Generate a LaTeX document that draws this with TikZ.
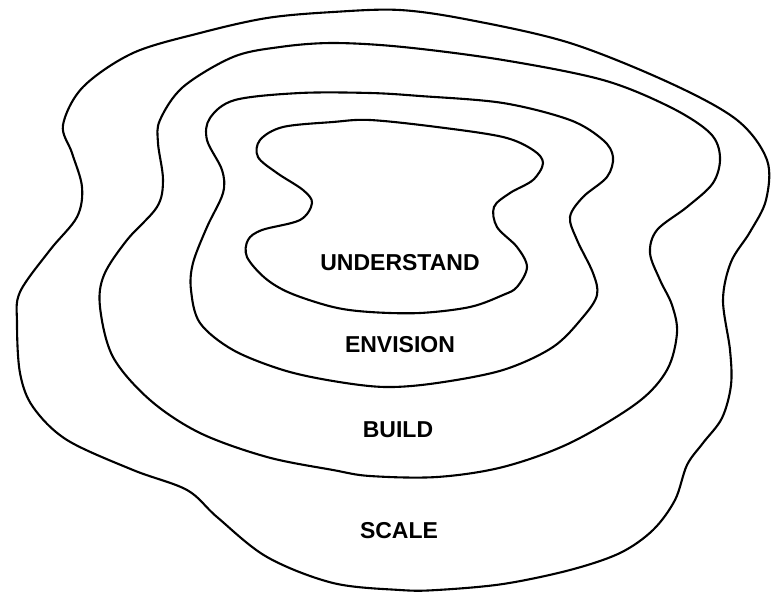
\documentclass[tikz,border=0pt]{standalone}
\usepackage{fontspec}
\setmainfont{Liberation Sans}
\begin{document}
\begin{tikzpicture}[x=1pt,y=-1pt,
  contour/.style={draw=black,line width=2.1pt,line join=round},
  lab/.style={font=\bfseries\fontsize{23}{26}\selectfont,text=black,inner sep=0pt}]
\useasboundingbox (0,0) rectangle (771,592);
% SCALE (outer)
\draw[contour] plot[smooth cycle,tension=0.55] coordinates {
 (333,12) (400,10) (470,20) (570,43) (670,83) (737,120) (767,160) (766,200)
 (750,232) (731,262) (723,300) (730,350) (731,385) (722,418) (703,443)
 (687,465) (675,500) (653,530) (620,553) (570,570) (503,584) (437,590) (400,590)
 (333,583) (267,557) (217,517) (187,490) (133,470) (67,440) (33,407)
 (20,373) (17,323) (20,292) (50,250) (77,217) (82,187) (72,153) (63,125)
 (83,87) (133,53) (200,33) (267,18)};
% BUILD
\draw[contour] plot[smooth cycle,tension=0.55] coordinates {
 (333,43) (403,47) (503,60) (603,80) (670,107) (710,133) (720,157) (713,183)
 (687,207) (657,230) (650,253) (660,280) (672,305) (677,333) (667,370)
 (637,403) (570,443) (503,467) (437,477) (370,476) (333,470) (267,457)
 (200,433) (150,400) (113,357) (100,307) (104,275) (127,240) (157,207)
 (163,180) (158,143) (160,120) (183,87) (233,57) (280,47)};
% ENVISION
\draw[contour] plot[smooth cycle,tension=0.55] coordinates {
 (300,93) (370,93) (420,96) (503,103) (570,120) (603,140) (613,157) (607,177)
 (583,197) (570,217) (577,240) (593,273) (597,295) (583,317) (553,347)
 (503,370) (437,383) (385,387) (333,381) (283,370) (233,350) (200,323)
 (191,290) (193,263) (207,227) (223,193) (222,170) (207,140) (210,118) (235,100)};
% UNDERSTAND (inner)
\draw[contour] plot[smooth cycle,tension=0.55] coordinates {
 (333,122) (370,120) (437,127) (503,137) (533,150) (543,163) (533,180)
 (510,193) (494,207) (497,227) (517,247) (527,267) (517,287) (503,295)
 (470,307) (420,313) (370,312) (333,307) (290,293) (265,278) (247,257)
 (248,240) (262,230) (300,220) (312,203) (303,190) (277,173) (258,157)
 (260,140) (283,127)};
\node[lab] (understand) at (400,263) {UNDERSTAND};
\node[lab] (envision) at (400,345) {ENVISION};
\node[lab] (build) at (398,430) {BUILD};
\node[lab] (scale) at (399,531) {SCALE};
\end{tikzpicture}
\end{document}
